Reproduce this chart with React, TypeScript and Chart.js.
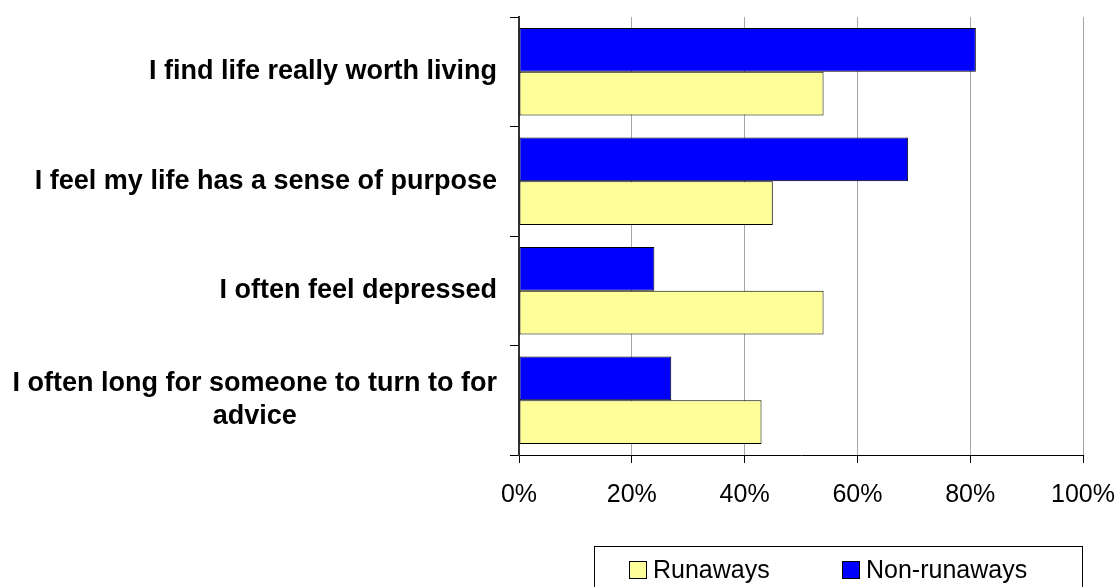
import React, { useEffect, useRef } from "react";
import { Chart, registerables } from "chart.js";

Chart.register(...registerables);

const categories: (string | string[])[] = [
  "I find life really worth living",
  "I feel my life has a sense of purpose",
  "I often feel depressed",
  ["I often long for someone to turn to for", "advice"],
];
const nonRunaways = [81, 69, 24, 27];
const runaways = [54, 45, 54, 43];
const xTicks = [0, 20, 40, 60, 80, 100];

const FONT = '"Liberation Sans", Arial, sans-serif';

const yLabelPlugin = {
  id: "yLabels",
  afterDraw(chart: any) {
    const ctx = chart.ctx;
    const y = chart.scales.y;
    const labels = chart.data.labels as (string | string[])[];
    ctx.save();
    ctx.font = `bold 27px ${FONT}`;
    ctx.fillStyle = "#000";
    ctx.textBaseline = "middle";
    const xRight = chart.chartArea.left - 22;
    labels.forEach((lab, i) => {
      const lines = Array.isArray(lab) ? lab : [lab];
      const py = y.getPixelForValue(i);
      const lh = 33;
      if (lines.length > 1) {
        const maxW = Math.max(...lines.map((l) => ctx.measureText(l).width));
        ctx.textAlign = "center";
        lines.forEach((l, j) => {
          ctx.fillText(l, xRight - maxW / 2, py + (j - (lines.length - 1) / 2) * lh);
        });
      } else {
        ctx.textAlign = "right";
        ctx.fillText(lines[0], xRight, py);
      }
    });
    ctx.restore();
  },
};

const legendPlugin = {
  id: "boxLegend",
  afterDraw(chart: any) {
    const ctx = chart.ctx;
    const ds = chart.data.datasets;
    ctx.save();
    ctx.strokeStyle = "#000";
    ctx.lineWidth = 1;
    ctx.strokeRect(594.5, 546.5, 488, 60);
    ctx.font = `25px ${FONT}`;
    ctx.textBaseline = "middle";
    ctx.textAlign = "left";
    const items = [
      { d: ds[1], x: 629 },
      { d: ds[0], x: 842 },
    ];
    items.forEach(({ d, x }) => {
      ctx.fillStyle = d.backgroundColor;
      ctx.fillRect(x, 561, 17, 17);
      ctx.strokeStyle = "#000";
      ctx.strokeRect(x + 0.5, 561.5, 17, 17);
      ctx.fillStyle = "#000";
      ctx.fillText(d.label, x + 24, 571);
    });
    ctx.restore();
  },
};

export default function App() {
  const ref = useRef<HTMLCanvasElement>(null);
  useEffect(() => {
    if (!ref.current) return;
    const chart = new Chart(ref.current, {
      type: "bar",
      data: {
        labels: categories,
        datasets: [
          {
            label: "Non-runaways",
            data: nonRunaways,
            backgroundColor: "#0000FF",
            borderColor: "#000",
            borderWidth: 1,
            borderSkipped: false,
          },
          {
            label: "Runaways",
            data: runaways,
            backgroundColor: "#FFFF99",
            borderColor: "#000",
            borderWidth: 1,
            borderSkipped: false,
          },
        ],
      },
      options: {
        indexAxis: "y",
        responsive: false,
        animation: false,
        layout: { padding: { top: 17, right: 36, left: 0, bottom: 0 } },
        datasets: { bar: { categoryPercentage: 0.8, barPercentage: 1 } },
        plugins: { legend: { display: false }, tooltip: { enabled: false } },
        scales: {
          x: {
            min: 0,
            max: 100,
            afterBuildTicks(scale: any) {
              scale.ticks = xTicks.map((v) => ({ value: v }));
            },
            afterFit(scale: any) {
              scale.height = 132;
              scale.paddingLeft = 0;
              scale.paddingRight = 0;
            },
            grid: {
              color: "#a6a6a6",
              tickColor: "#000",
              tickLength: 8,
              lineWidth: 1,
            },
            border: { display: true, color: "#000", width: 1 },
            ticks: {
              padding: 17,
              color: "#000",
              font: { family: FONT, size: 25 },
              maxRotation: 0,
              callback: (v: any) => v + "%",
            },
          },
          y: {
            afterFit(scale: any) {
              scale.width = 519;
              scale.paddingTop = 0;
              scale.paddingBottom = 0;
            },
            grid: {
              offset: true,
              drawOnChartArea: false,
              tickColor: "#000",
              tickLength: 9,
            },
            border: { display: true, color: "#333", width: 2 },
            ticks: { display: false },
          },
        },
      },
      plugins: [yLabelPlugin, legendPlugin],
    });
    return () => chart.destroy();
  }, []);
  return (
    <div style={{ position: "fixed", left: 0, top: 0, width: 1119, height: 587, background: "#fff" }}>
      <canvas ref={ref} width={1119} height={587} style={{ display: "block" }} />
    </div>
  );
}
